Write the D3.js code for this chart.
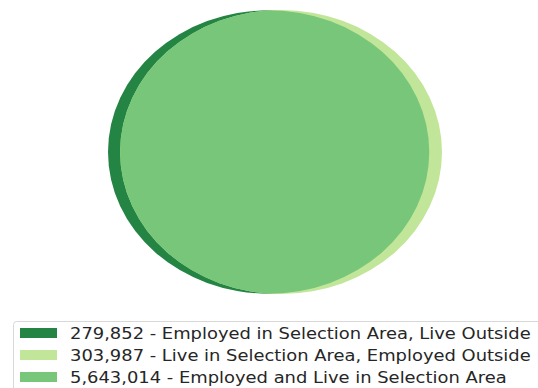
<!DOCTYPE html>
<html>
<head>
<meta charset="utf-8">
<script src="https://cdn.jsdelivr.net/npm/d3@7"></script>
<style>
  body { margin: 0; background: #fff; }
  svg { display: block; font-family: "DejaVu Sans", sans-serif; }
</style>
</head>
<body>
<svg id="chart" width="538" height="388"></svg>
<script>
// Venn values
var labels = ["Employed in Selection Area, Live Outside",
              "Live in Selection Area, Employed Outside",
              "Employed and Live in Selection Area"];
var counts = [279852, 303987, 5643014];
var colors = ["#238443", "#c2e699", "#78c679"];

// circle areas: A = work here, B = live here
var areaA = counts[0] + counts[2];
var areaB = counts[1] + counts[2];
var rA = Math.sqrt(areaA / Math.PI);
var rB = Math.sqrt(areaB / Math.PI);

function lensArea(r1, r2, d) {
    if (d >= r1 + r2) return 0;
    if (d <= Math.abs(r1 - r2)) return Math.PI * Math.min(r1, r2) ** 2;
    var a = r1 * r1 * Math.acos((d * d + r1 * r1 - r2 * r2) / (2 * d * r1));
    var b = r2 * r2 * Math.acos((d * d + r2 * r2 - r1 * r1) / (2 * d * r2));
    var c = 0.5 * Math.sqrt((-d + r1 + r2) * (d + r1 - r2) * (d - r1 + r2) * (d + r1 + r2));
    return a + b - c;
}

// find centre distance giving the overlap area
var lo = Math.abs(rA - rB), hi = rA + rB;
for (var i = 0; i < 100; i++) {
    var mid = (lo + hi) / 2;
    if (lensArea(rA, rB, mid) > counts[2]) lo = mid; else hi = mid;
}
var dist = (lo + hi) / 2;

var svg = d3.select('#chart');

// image is stretched a bit horizontally
var xScale = d3.scaleLinear().domain([-rA, dist + rB]).range([108, 442]);
var rMax = Math.max(rA, rB);
var yScale = d3.scaleLinear().domain([-rMax, rMax]).range([294, 10]);

var circles = [
    {cx: 0, r: rA, color: colors[0]},
    {cx: dist, r: rB, color: colors[1]}
];

svg.append('clipPath').attr('id', 'clipA')
    .append('ellipse')
    .attr('cx', xScale(0))
    .attr('cy', yScale(0))
    .attr('rx', xScale(rA) - xScale(0))
    .attr('ry', yScale(0) - yScale(rA));

svg.selectAll('.venn')
    .data(circles)
    .enter()
    .append('ellipse')
    .attr('class', 'venn')
    .attr('cx', d => xScale(d.cx))
    .attr('cy', yScale(0))
    .attr('rx', d => xScale(d.r) - xScale(0))
    .attr('ry', d => yScale(0) - yScale(d.r))
    .attr('fill', d => d.color);

// overlap
svg.append('ellipse')
    .attr('clip-path', 'url(#clipA)')
    .attr('cx', xScale(dist))
    .attr('cy', yScale(0))
    .attr('rx', xScale(rB) - xScale(0))
    .attr('ry', yScale(0) - yScale(rB))
    .attr('fill', colors[2]);

// Legend
var legend = svg.append('g');
legend.append('rect')
    .attr('x', 13.5).attr('y', 321.5)
    .attr('width', 540).attr('height', 80)
    .attr('rx', 3)
    .attr('fill', '#fff')
    .attr('stroke', '#d8d8d8');

var rows = legend.selectAll('.row')
    .data(labels)
    .enter()
    .append('g')
    .attr('transform', (d, i) => 'translate(0,' + (333 + i * 22) + ')');

rows.append('rect')
    .attr('x', 20).attr('y', -5)
    .attr('width', 37).attr('height', 10)
    .attr('fill', (d, i) => colors[i]);

// text is stretched horizontally like the rest of the picture
rows.append('text')
    .attr('transform', 'translate(70,6) scale(1.12,1)')
    .attr('font-size', '16px')
    .attr('fill', '#262626')
    .text((d, i) => d3.format(',')(counts[i]) + ' - ' + d);
</script>
</body>
</html>
